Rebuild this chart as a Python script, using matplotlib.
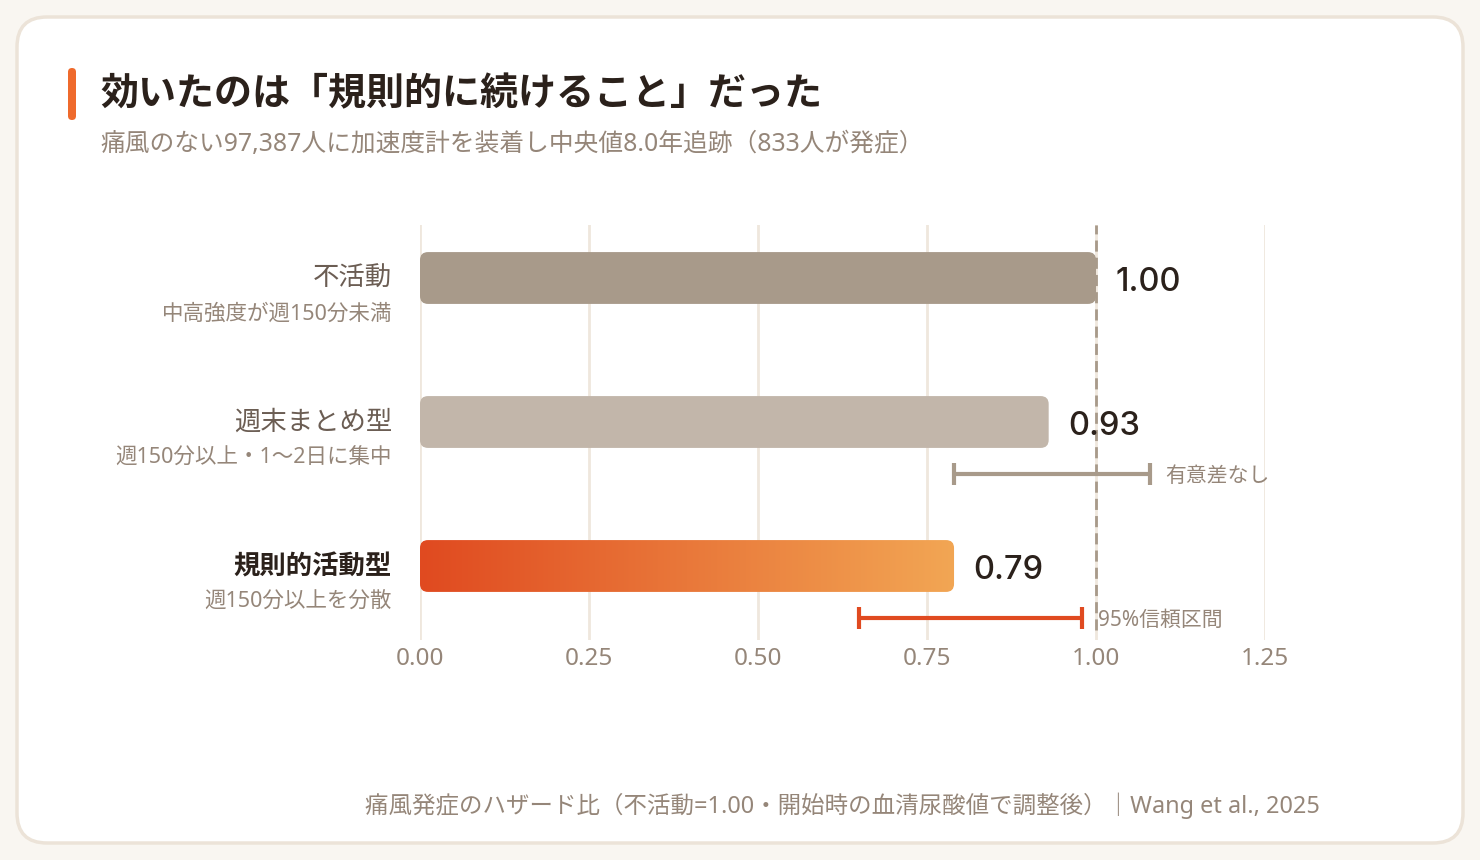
import numpy as np
import matplotlib
matplotlib.use("Agg")
import matplotlib.pyplot as plt
from matplotlib.patches import FancyBboxPatch
from matplotlib.transforms import IdentityTransform

plt.rcParams['font.family'] = ['Noto Sans', 'Noto Sans CJK JP', 'DejaVu Sans']

# data
groups = ["不活動", "週末まとめ型", "規則的活動型"]
group_notes = ["中高強度が週150分未満", "週150分以上・1〜2日に集中", "週150分以上を分散"]
hazard_ratio = [1.00, 0.93, 0.79]
ci_low = [None, 0.79, 0.65]
ci_high = [None, 1.08, 0.98]
ci_notes = [None, "有意差なし", "95%信頼区間"]
xticks = [0.00, 0.25, 0.50, 0.75, 1.00, 1.25]

title = "効いたのは「規則的に続けること」だった"
subtitle = "痛風のない97,387人に加速度計を装着し中央値8.0年追跡（833人が発症）"
footer = "痛風発症のハザード比（不活動=1.00・開始時の血清尿酸値で調整後）｜Wang et al., 2025"

DARK = "#2b211b"
MUTED = "#958679"
LABEL = "#6b5d53"
GRID = "#efe7dd"
bar_colors = ["#a89a8a", "#c2b6aa", None]
ci_colors = [None, "#a89a8a", "#e04a20"]

W, H = 1480, 860
fig = plt.figure(figsize=(W / 100, H / 100), dpi=100)
fig.patch.set_facecolor("#f9f6f1")

# card behind everything
card = FancyBboxPatch((17, 17), W - 34, H - 34, boxstyle="round,pad=0,rounding_size=30",
                      transform=IdentityTransform(), facecolor="white",
                      edgecolor="#ece3d8", linewidth=2.5, zorder=-10)
fig.patches.append(card)

# accent bar next to the title
accent = FancyBboxPatch((68, H - 120), 8, 52, boxstyle="round,pad=0,rounding_size=4",
                        transform=IdentityTransform(), facecolor="#ef6a2c",
                        edgecolor="none", zorder=-5)
fig.patches.append(accent)

fig.text(100 / W, 1 - 95 / H, title, fontsize=27.4, fontweight="bold", color=DARK, va="center")
fig.text(100 / W, 1 - 145 / H, subtitle, fontsize=17.8, color=MUTED, va="center")

ax_left, ax_right, ax_top, ax_bottom = 420, 1265, 225, 640
ax = fig.add_axes([ax_left / W, 1 - ax_bottom / H, (ax_right - ax_left) / W, (ax_bottom - ax_top) / H])
ax.set_facecolor("none")
ax.set_zorder(1)

for s in ax.spines.values():
    s.set_visible(False)
ax.set_yticks([])
ax.set_xticks(xticks)
ax.set_xticklabels([f"{t:.2f}" for t in xticks], fontsize=17.5, color=MUTED)
ax.tick_params(axis="x", length=0, pad=5)
ax.grid(axis="x", color=GRID, linewidth=2)
ax.set_axisbelow(True)

ypos = np.arange(len(groups))
bars = ax.barh(ypos, hazard_ratio, height=0.36, alpha=0)

px_x = (ax_right - ax_left) / 1.25
px_y = 144.0
r = 8 / px_x
cmap = matplotlib.colors.LinearSegmentedColormap.from_list("g", ["#e04a20", "#f2a654"])
for i, b in enumerate(bars):
    x0, y0, w, h = b.get_x(), b.get_y(), b.get_width(), b.get_height()
    p = FancyBboxPatch((x0, y0), w, h, boxstyle=f"round,pad=0,rounding_size={r}",
                       mutation_aspect=px_x / px_y,
                       facecolor=bar_colors[i] if bar_colors[i] else "none",
                       edgecolor="none", zorder=3)
    ax.add_patch(p)
    if bar_colors[i] is None:
        grad = np.linspace(0, 1, 256).reshape(1, -1)
        im = ax.imshow(grad, extent=[x0, x0 + w, y0 + h, y0], cmap=cmap, aspect="auto", zorder=3)
        im.set_clip_path(p)
    ax.annotate(f"{hazard_ratio[i]:.2f}", (x0 + w, ypos[i]), xytext=(14, -3),
                textcoords="offset points", fontsize=23.5, fontweight="medium",
                family=["Inter", "Noto Sans"],
                color=DARK, va="center", ha="left", zorder=5)

ax.set_xlim(0, 1.25)
ax.set_ylim(2 + 74 / 144, -53 / 144)

# reference line at HR = 1
ax.axvline(1.0, ymin=0.025, ymax=1, color="#a89a8a", linewidth=2, linestyle=(0, (4, 2.2)), zorder=4)

# confidence intervals
for i in range(len(groups)):
    if ci_low[i] is None:
        continue
    yc = ypos[i] + 0.36
    ax.errorbar([hazard_ratio[i]], [yc], xerr=[[hazard_ratio[i] - ci_low[i]], [ci_high[i] - hazard_ratio[i]]],
                fmt="none", ecolor=ci_colors[i], elinewidth=3, capsize=8, capthick=3, zorder=4)
    ax.annotate(ci_notes[i], (ci_high[i], yc), xytext=(11, -2), textcoords="offset points",
                fontsize=15, color=MUTED, va="center", ha="left", zorder=5)

# category labels
label_x = 392 / W
for i in range(len(groups)):
    yc_px = [279, 423, 567][i]
    fig.text(label_x, 1 - yc_px / H, groups[i], fontsize=19,
             fontweight="bold" if i == 2 else "normal",
             color=DARK if i == 2 else LABEL, ha="right", va="center")
    fig.text(label_x, 1 - (yc_px + 35) / H, group_notes[i], fontsize=15.5,
             color=MUTED, ha="right", va="center")

fig.text((ax_left + ax_right) / 2 / W, 1 - 806 / H, footer, fontsize=16.9, color=MUTED,
         ha="center", va="center")

fig.savefig("out.png", dpi=100, facecolor=fig.get_facecolor())
